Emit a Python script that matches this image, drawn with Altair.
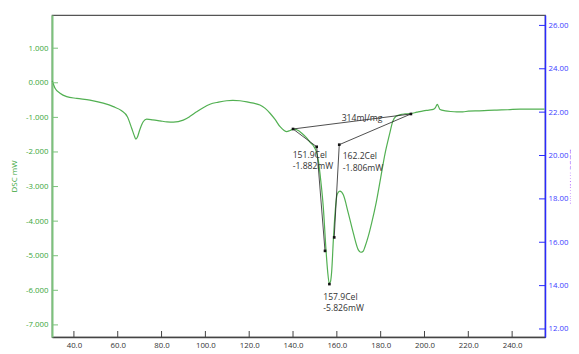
import altair as alt
import pandas as pd

# ---- data ----
temp = [30.1, 31.4, 33.65, 36.7, 41.3, 47.3, 53.4, 58.0, 61.8, 64.4, 66.4, 67.5, 68.3, 69.0, 69.8, 70.7, 71.7, 73.2,
        76.0, 79.3, 82.5, 85.4, 89.9, 93.0, 96.0, 99.0, 102.1, 106.0, 109.7, 112.5, 115.8, 119.0, 122.0, 124.9,
        127.3, 129.5, 131.8, 134.1, 135.8, 137.1, 138.6, 140.1, 142.4, 144.0, 146.0, 147.8, 149.3, 150.5, 151.5,
        152.7, 153.8, 155.05, 155.8, 156.56, 157.1, 157.65, 158.4, 159.2, 159.9, 160.6, 161.4, 162.95, 165.2,
        167.5, 169.8, 170.9, 172.0, 172.85, 174.3, 175.9, 178.0, 180.0, 182.0, 184.0, 185.5, 187.0, 189.0, 191.0,
        193.8, 196.5, 199.5, 202.0, 204.0, 205.0, 205.85, 206.5, 207.1, 209.5, 212.0, 214.7, 217.5, 220.0, 225.0,
        229.0, 233.0, 238.0, 243.6, 248.0, 254.1, 254.8]
dsc = [0.06, -0.16, -0.30, -0.40, -0.45, -0.50, -0.59, -0.69, -0.81, -0.98, -1.32, -1.52, -1.63, -1.57, -1.41,
       -1.25, -1.12, -1.05, -1.07, -1.10, -1.13, -1.14, -1.08, -0.97, -0.84, -0.72, -0.62, -0.56, -0.52, -0.51,
       -0.52, -0.55, -0.59, -0.64, -0.74, -0.88, -1.06, -1.27, -1.37, -1.41, -1.38, -1.34, -1.38, -1.46, -1.58,
       -1.72, -1.82, -1.97, -2.23, -2.85, -3.58, -4.83, -5.45, -5.80, -5.75, -5.45, -4.55, -3.76, -3.30, -3.17,
       -3.13, -3.24, -3.76, -4.34, -4.83, -4.90, -4.87, -4.74, -4.45, -4.05, -3.45, -2.75, -2.05, -1.50, -1.12,
       -0.97, -0.92, -0.90, -0.89, -0.85, -0.81, -0.79, -0.77, -0.72, -0.62, -0.70, -0.77, -0.81, -0.83, -0.84,
       -0.84, -0.82, -0.81, -0.80, -0.79, -0.78, -0.76, -0.76, -0.76, -0.76]

# analysis construction points
mark_T = [140.0, 193.8, 150.8, 154.6, 156.6, 158.8, 161.1]
mark_V = [-1.336, -0.902, -1.85, -4.86, -5.82, -4.47, -1.79]
seg_T1 = [140.0, 140.0, 150.8, 161.1, 161.1]
seg_V1 = [-1.336, -1.336, -1.85, -1.79, -1.79]
seg_T2 = [193.8, 150.8, 154.6, 158.8, 193.8]
seg_V2 = [-0.902, -1.85, -4.86, -4.47, -0.902]

ann_text = ["314mJ/mg", "151.9Cel", "-1.882mW", "162.2Cel", "-1.806mW", "157.9Cel", "-5.826mW"]
ann_T = [162.2, 139.85, 139.85, 162.67, 162.67, 153.8, 153.8]
ann_V = [-1.026, -2.087, -2.42, -2.116, -2.45, -6.184, -6.525]

x_ticks = [40, 60, 80, 100, 120, 140, 160, 180, 200, 220, 240]
left_ticks = [-7, -6, -5, -4, -3, -2, -1, 0, 1]
right_ticks = [12, 14, 16, 18, 20, 22, 24, 26]

X_DOMAIN = [30, 255]
LEFT_DOMAIN = [-7.35, 1.96]
RIGHT_DOMAIN = [11.63, 26.48]

W, H = 493, 322
FONT = "Open Sans"
GREEN = "#52b052"
GREEN_AX = "#7cc27c"
GREEN_LBL = "#3aa63a"
BLUE = "#2a2aff"
BLUE_LBL = "#3b3bff"
MINUS = "\u2212"

curve_df = pd.DataFrame({"T": temp, "V": dsc})
mark_df = pd.DataFrame({"T": mark_T, "V": mark_V})
seg_df = pd.DataFrame({"T": seg_T1, "V": seg_V1, "T2": seg_T2, "V2": seg_V2})
ann_df = pd.DataFrame({"T": ann_T, "V": ann_V, "txt": ann_text})
xt_df = pd.DataFrame({"T": x_ticks})
lt_df = pd.DataFrame({"V": left_ticks})
rt_df = pd.DataFrame({"R": right_ticks})

xscale = alt.Scale(domain=X_DOMAIN, nice=False, zero=False)
yscale = alt.Scale(domain=LEFT_DOMAIN, nice=False, zero=False)
rscale = alt.Scale(domain=RIGHT_DOMAIN, nice=False, zero=False)

x_axis = alt.Axis(values=x_ticks, labelExpr="format(datum.value, '.1f')", title="Temp Cel",
                  ticks=False, labelPadding=4, domainColor="#444", domainWidth=1.5,
                  labelColor="#333", titleColor="#333", labelFont=FONT, titleFont=FONT,
                  labelFontSize=7.8, titleFontSize=8, titleFontWeight="normal", titlePadding=3, grid=False)
left_axis = alt.Axis(values=left_ticks,
                     labelExpr=f"replace(format(datum.value, '.3f'), '{MINUS}', '-')",
                     title="DSC mW", ticks=False, labelPadding=4, domainColor=GREEN_AX, domainWidth=2,
                     labelColor=GREEN_LBL, titleColor=GREEN_LBL, labelFont=FONT, titleFont=FONT,
                     labelFontSize=7.8, titleFontSize=8, titleFontWeight="normal", titlePadding=7, grid=False)
right_axis = alt.Axis(orient="right", values=right_ticks, format=".2f", title="DDSC mW/min",
                      ticks=False, labelPadding=3, domainColor=BLUE, domainWidth=1.5,
                      labelColor=BLUE_LBL, titleColor="#8a5cff", labelFont=FONT, titleFont=FONT,
                      labelFontSize=7.8, titleFontSize=8, titleFontWeight="normal", titlePadding=0, grid=False)

X = alt.X("T:Q", scale=xscale, axis=x_axis)
Y = alt.Y("V:Q", scale=yscale, axis=left_axis)

curve = alt.Chart(curve_df).mark_line(color=GREEN, strokeWidth=1.2, interpolate="monotone").encode(x=X, y=Y)
segs = alt.Chart(seg_df).mark_rule(color="#222", strokeWidth=0.8).encode(x=X, x2="T2:Q", y=Y, y2="V2:Q")
marks = alt.Chart(mark_df).mark_point(filled=True, shape="square", size=7, color="#111", opacity=1).encode(x=X, y=Y)
texts = alt.Chart(ann_df).mark_text(align="left", baseline="middle", font=FONT, fontSize=8.6, color="#333").encode(
    x=X, y=Y, text="txt:N")
xticks = alt.Chart(xt_df).mark_rule(color="#444", strokeWidth=1).encode(
    x=X, y=alt.value(H - 6), y2=alt.value(H))
lticks = alt.Chart(lt_df).mark_rule(color=GREEN_AX, strokeWidth=1).encode(
    y=Y, x=alt.value(0), x2=alt.value(6))
left_group = alt.layer(curve, lticks, xticks, segs, marks, texts)

rticks = alt.Chart(rt_df).mark_rule(color=BLUE, strokeWidth=1).encode(
    y=alt.Y("R:Q", scale=rscale, axis=right_axis),
    x=alt.value(W - 6), x2=alt.value(W),
)
right_group = alt.layer(rticks)

chart = alt.layer(left_group, right_group).resolve_scale(y="independent").properties(
    width=W, height=H,
    autosize=alt.AutoSizeParams(type="none"),
    padding={"left": 44, "top": 7, "right": 26, "bottom": 16},
).configure_view(stroke="#555", strokeWidth=1.2)

chart.save("out.html", embed_options={"renderer": "svg", "actions": False})
